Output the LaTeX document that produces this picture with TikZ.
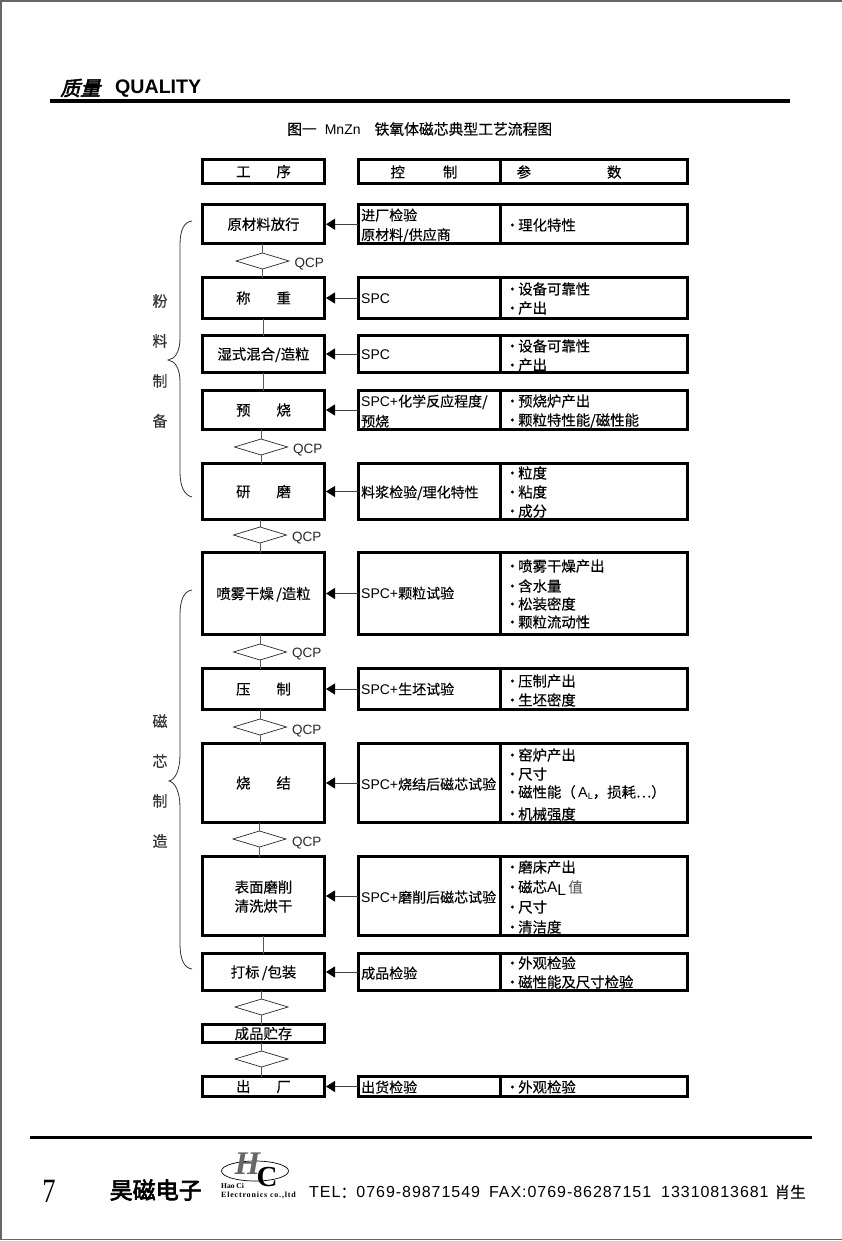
\documentclass[tikz,border=0pt]{standalone}
\usepackage{fontspec}
\setmainfont[FakeBold=0.3]{Noto Sans CJK SC}
\newfontfamily\lat{Liberation Sans}
\newfontfamily\latwide[LetterSpace=6]{Liberation Sans}
\newfontfamily\headfont[FakeSlant=0.25,FakeBold=2.5]{Noto Sans CJK SC}
\newfontfamily\brandfont[FakeBold=3]{Noto Sans CJK SC}
\newfontfamily\logofont{Liberation Serif}
\newfontfamily\logowide[LetterSpace=10]{Liberation Serif}
\usetikzlibrary{shapes.geometric,arrows.meta}
\tikzset{
	stepbox/.style={draw,line width=3pt,rectangle,inner sep=0pt,outer sep=0pt,minimum width=122pt,text height=14pt,text depth=3pt,font=\fontsize{14.4}{16}\selectfont},
	ctrlbox/.style={draw,line width=3pt,rectangle,inner sep=0pt,outer sep=0pt,minimum width=142pt},
	parabox/.style={draw,line width=3pt,rectangle,inner sep=0pt,outer sep=0pt,minimum width=187pt},
	ctrltext/.style={anchor=west,inner sep=0pt,text height=14pt,text depth=3pt,font=\fontsize{14}{16}\selectfont},
	paratext/.style={anchor=west,inner sep=0pt,text height=14pt,text depth=3pt,font=\fontsize{14.4}{16}\selectfont},
	sidetext/.style={inner sep=0pt,text=black!80,font=\fontsize{15}{16}\selectfont},
	qcpmark/.style={draw,shape=diamond,inner sep=0pt,outer sep=0pt,minimum width=53pt,minimum height=16pt,line width=0.7pt,black!85},
	qcptext/.style={anchor=west,inner sep=0pt,text=black!85,font=\lat\fontsize{13.5}{14}\selectfont},
	link/.style={line width=1pt,black!65},
	flow/.style={->,line width=1pt,black!75,shorten >=1.5pt},
	brace/.style={line width=0.8pt,black!80}
}
\newcommand{\ALsub}{{\lat A\raisebox{-2pt}{\fontsize{9}{9}\selectfont L}}}
\newcommand{\ALbig}{{\lat\fontsize{15.5}{16}\selectfont A\raisebox{-3pt}{L}}}
\begin{document}
\begin{tikzpicture}[x=1pt,y=-1pt,line join=miter,>={Triangle[length=9pt,width=11pt,black]}]
	\useasboundingbox (0,0) rectangle (842,1241);
	\draw[black!60,line width=1.2pt] (842,1) -- (1,1) -- (1,1239.5) -- (842,1239.5);
	\coordinate (headl) at (50,101);
	\coordinate (headr) at (790,101);
	\coordinate (footl) at (30,1137.5);
	\coordinate (footr) at (812,1137.5);
	\draw[line width=3.5pt] (headl) -- (headr);
	\draw[line width=3.8pt] (footl) -- (footr);
	\node[anchor=west,inner sep=0pt] (headcn) at (60,88) {\headfont\fontsize{20}{22}\selectfont 质量};
	\node[anchor=west,inner sep=0pt] (headen) at (115,88.5) {\lat\bfseries\fontsize{19.6}{22}\selectfont QUALITY};
	\node[anchor=west,inner sep=0pt] (caption) at (287,129) {\fontsize{14.8}{16}\selectfont 图一\hspace{8pt}{\lat\fontsize{14}{16}\selectfont MnZn}\hspace{14pt}铁氧体磁芯典型工艺流程图};
	\foreach \n/\yt/\yb/\txt in {0/159.5/183.5/工\hspace{26pt}序,1/204.5/244/原材料放行,2/277.5/318.5/称\hspace{26pt}重,3/335.5/372.5/{湿式混合/造粒\hspace{5pt}},4/390.5/429.5/预\hspace{26pt}烧,5/463.5/519.5/研\hspace{26pt}磨,6/552.5/634.5/{喷雾干燥\,/造粒},7/668.5/709.5/压\hspace{26pt}制,8/743.5/822.5/烧\hspace{26pt}结,9/856.5/935.5/{},10/953.5/990.5/{打标\,/包装},11/1024.5/1042.5/成品贮存,12/1076.5/1096.5/出\hspace{26pt}厂}
	\node[stepbox,minimum height={(\yb-\yt)*1pt}] (s\n) at (263.5,{(\yt+\yb)/2}) {\txt};
	\node[paratext,anchor=center] (s9a) at (263.5,887) {表面磨削};
	\node[paratext,anchor=center] (s9b) at (263.5,906) {清洗烘干};
	\foreach \n/\yt/\yb in {0/159.5/183.5,1/204.5/244,2/277.5/318.5,3/335.5/372.5,4/390.5/429.5,5/463.5/519.5,6/552.5/634.5,7/668.5/709.5,8/743.5/822.5,9/856.5/935.5,10/953.5/990.5,12/1076.5/1096.5}{
		\node[ctrlbox,minimum height={(\yb-\yt)*1pt}] (c\n) at (429,{(\yt+\yb)/2}) {};
		\node[parabox,minimum height={(\yb-\yt)*1pt}] (p\n) at (593.5,{(\yt+\yb)/2}) {};
	}
	\foreach \n in {1,2,3,4,5,6,7,8,9,10,12}
	\draw[flow] (c\n.west) -- (s\n.east);
	\node[paratext,anchor=center] (hctrl) at (424,172) {控\hspace{38pt}制};
	\node[paratext,anchor=center] (hpara) at (569,172) {参\hspace{76pt}数};
	\foreach \q/\x/\y in {1/262.5/261,2/261/447,3/260/535,4/260/652,5/260/727,6/259.5/839,7/261.5/1007,8/261.5/1059}
	\node[qcpmark] (q\q) at (\x,\y) {};
	\foreach \q/\a/\b in {1/1/2,2/4/5,3/5/6,4/6/7,5/7/8,6/8/9,7/10/11,8/11/12}{
		\draw[link] (s\a.south -| q\q.north) -- (q\q.north);
		\draw[link] (q\q.south) -- (q\q.south |- s\b.north);
	}
	\foreach \a/\b in {2/3,3/4,9/10}
	\draw[link] (s\a) -- (s\b);
	\foreach \q/\x/\y in {1/294.5/264,2/293/450,3/292/538.5,4/292/654.5,5/292/731,6/292/843}
	\node[qcptext] (t\q) at (\x,\y) {QCP};
	\foreach \y/\txt in {215/进厂检验,234.5/{原材料/供应商},298/{\lat SPC},354/{\lat SPC},401/{\lat SPC+}化学反应程度{/},421/预烧,492/{料浆检验/理化特性},593/{\lat SPC+}颗粒试验,689/{\lat SPC+}生坯试验,784/{\lat SPC+}烧结后磁芯试验,897/{\lat SPC+}磨削后磁芯试验,973/成品检验,1087/出货检验}
	\node[ctrltext] (ct\y) at (361,\y) {\txt};
	\foreach \y/\txt in {225/理化特性,289/设备可靠性,308/产出,346/设备可靠性,365/产出,401/预烧炉产出,420/{颗粒特性能/磁性能},473/粒度,492/粘度,511/成分,566/喷雾干燥产出,586/含水量,604/松装密度,622/颗粒流动性,681/压制产出,700/生坯密度,755/窑炉产出,774/尺寸,792/{磁性能（\,\ALsub，损耗⋯）},814/机械强度,867/磨床产出,887/{磁芯\ALbig\,{\color{black!60}值}},907/尺寸,927/清洁度,963/外观检验,982/磁性能及尺寸检验,1087/外观检验}
	\node[paratext] (pt\y) at (505,\y) {\makebox[13pt][l]{·}\txt};
	\foreach \y/\txt in {301/粉,341/料,381/制,421/备,721/磁,761/芯,801/制,841/造}
	\node[sidetext] (side\y) at (160,\y) {\txt};
	\draw[brace] (192,221) .. controls (184,222) and (180,230) .. (180,245) -- (180,338) .. controls (180,352) and (175,359) .. (168,360) .. controls (175,361) and (180,368) .. (180,382) -- (180,472) .. controls (180,486) and (184,495) .. (192,497);
	\draw[brace] (192,590) .. controls (184,591) and (180,600) .. (180,615) -- (180,755) .. controls (180,770) and (175,780) .. (169,781) .. controls (175,782) and (180,792) .. (180,807) -- (180,944) .. controls (180,959) and (184,968) .. (192,969);
	\node[inner sep=0pt,xscale=0.78] (pageno) at (49,1191) {\logofont\fontsize{34}{36}\selectfont 7};
	\node[anchor=west,inner sep=0pt] (brand) at (109.5,1190) {\brandfont\fontsize{23}{24}\selectfont 昊磁电子};
	\node[draw,shape=ellipse,inner sep=0pt,minimum width=67pt,minimum height=20pt,line width=0.7pt] (logoring) at (255,1171) {};
	\node[inner sep=0pt,text=black!60] (logoh) at (247.5,1164) {\logofont\bfseries\itshape\fontsize{33}{33}\selectfont H};
	\node[inner sep=0pt] (logoc) at (267,1177) {\logofont\bfseries\fontsize{29}{29}\selectfont C};
	\node[anchor=west,inner sep=0pt] (logoa) at (221,1185.5) {\logofont\bfseries\fontsize{7.5}{8}\selectfont Hao Ci};
	\node[anchor=west,inner sep=0pt] (logob) at (221,1195) {\logowide\bfseries\fontsize{8}{8}\selectfont Electronics co.,ltd};
	\node[anchor=west,inner sep=0pt] (contact) at (309,1192) {\latwide\fontsize{16}{18}\selectfont TEL{\rmfamily ：}0769-89871549\hspace{9pt}FAX:0769-86287151\hspace{10pt}13310813681\hspace{6pt}{\rmfamily\fontsize{15.5}{18}\selectfont 肖生}};
\end{tikzpicture}
\end{document}
